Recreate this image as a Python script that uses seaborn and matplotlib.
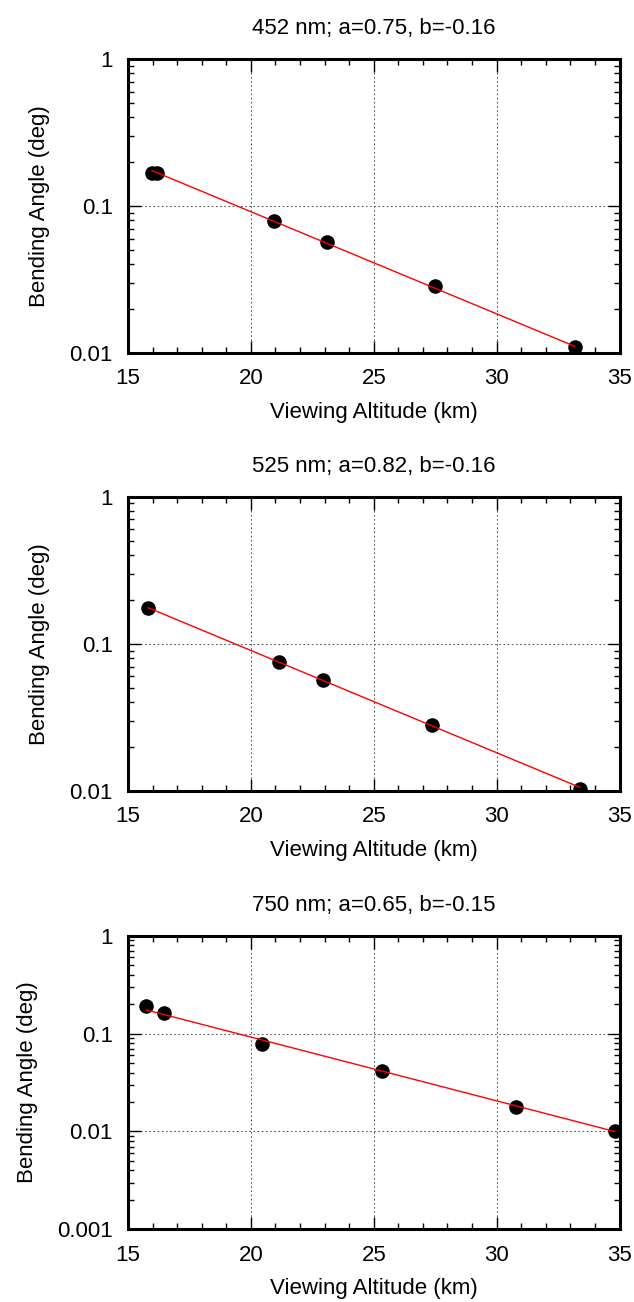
import numpy as np
import pandas as pd
import matplotlib
matplotlib.use("Agg")
import matplotlib.pyplot as plt
import seaborn as sns
from matplotlib.ticker import FixedLocator, FuncFormatter, MultipleLocator, NullFormatter

# Per-wavelength fit parameters shown in the panel titles
wavelengths = ["452 nm", "525 nm", "750 nm"]
coef_a = [0.75, 0.82, 0.65]
coef_b = [-0.16, -0.16, -0.15]

# Measured bending angle vs. viewing altitude
alt_452 = [15.97, 16.19, 20.96, 23.10, 27.50, 33.19]
ang_452 = [0.167, 0.167, 0.0788, 0.057, 0.0284, 0.011]

alt_525 = [15.82, 21.13, 22.92, 27.36, 33.39]
ang_525 = [0.176, 0.0756, 0.0568, 0.0282, 0.01032]

alt_750 = [15.74, 16.47, 20.45, 25.33, 30.80, 34.80]
ang_750 = [0.191, 0.161, 0.0776, 0.0411, 0.0179, 0.0101]

altitudes = [alt_452, alt_525, alt_750]
angles = [ang_452, ang_525, ang_750]

# Axis ranges / tick labels
x_range = [15, 35]
x_major = [15, 20, 25, 30, 35]
y_bottoms = [0.01, 0.01, 0.001]
y_top = 1.0

sns.set_theme(style="white")
plt.rcParams["font.family"] = ["Liberation Sans", "DejaVu Sans"]
plt.rcParams["font.size"] = 16
plt.rcParams["axes.unicode_minus"] = False

fig = plt.figure(figsize=(6.34, 13.02), dpi=100)

W, H = 634.0, 1302.0
left_px, right_px = 128.0, 619.5
panel_px = [(59.0, 353.0), (496.7, 791.0), (935.7, 1229.3)]

fmt = FuncFormatter(lambda v, pos: f"{v:g}")

for i in range(3):
    top_px, bot_px = panel_px[i]
    ax = fig.add_axes([left_px / W, 1 - bot_px / H,
                       (right_px - left_px) / W, (bot_px - top_px) / H])

    df = pd.DataFrame({"alt": altitudes[i], "ang": angles[i]})

    # exponential fit with the title's decay rate; amplitude from the points
    b = coef_b[i]
    ln_c = np.mean(np.log(df["ang"]) - b * df["alt"])
    xs = np.linspace(df["alt"].min(), df["alt"].max(), 60)
    fit = pd.DataFrame({"alt": xs, "ang": np.exp(ln_c + b * xs)})

    ax.set_yscale("log")
    sns.scatterplot(data=df, x="alt", y="ang", ax=ax, color="black",
                    s=110, edgecolor="black", linewidth=0, zorder=3)
    sns.lineplot(data=fit, x="alt", y="ang", ax=ax, color="#ff0000",
                 linewidth=1.0, zorder=4)

    ax.set_xlim(*x_range)
    ax.set_ylim(y_bottoms[i], y_top)

    ax.xaxis.set_major_locator(FixedLocator(x_major))
    ax.xaxis.set_minor_locator(MultipleLocator(1))
    ax.xaxis.set_major_formatter(fmt)

    decades = 10.0 ** np.arange(np.log10(y_bottoms[i]), 0.5)
    ax.yaxis.set_major_locator(FixedLocator(decades))
    minors = [d * k for d in decades[:-1] for k in range(2, 10)]
    ax.yaxis.set_minor_locator(FixedLocator(minors))
    ax.yaxis.set_major_formatter(fmt)
    ax.yaxis.set_minor_formatter(NullFormatter())

    ax.tick_params(which="both", direction="in", top=True, right=True,
                   bottom=True, left=True, color="black", width=1.0,
                   labelsize=16, labelcolor="black")
    ax.tick_params(which="major", length=9, pad=11)
    ax.tick_params(which="minor", length=4.5)

    ax.grid(True, which="major", color="0.3", linewidth=0.75,
            linestyle=(0, (1.5, 2.5)))
    ax.set_axisbelow(True)

    for sp in ax.spines.values():
        sp.set_visible(True)
        sp.set_color("black")
        sp.set_linewidth(2.2)
        sp.set_zorder(5)

    ax.set_title(f"{wavelengths[i]}; a={coef_a[i]:.2f}, b={coef_b[i]:.2f}",
                 fontsize=16, pad=18, color="black")
    ax.set_xlabel("Viewing Altitude (km)", fontsize=16, labelpad=9, color="black")
    ax.set_ylabel("Bending Angle (deg)", fontsize=16, labelpad=14, color="black")

fig.savefig("out.png", dpi=100)
